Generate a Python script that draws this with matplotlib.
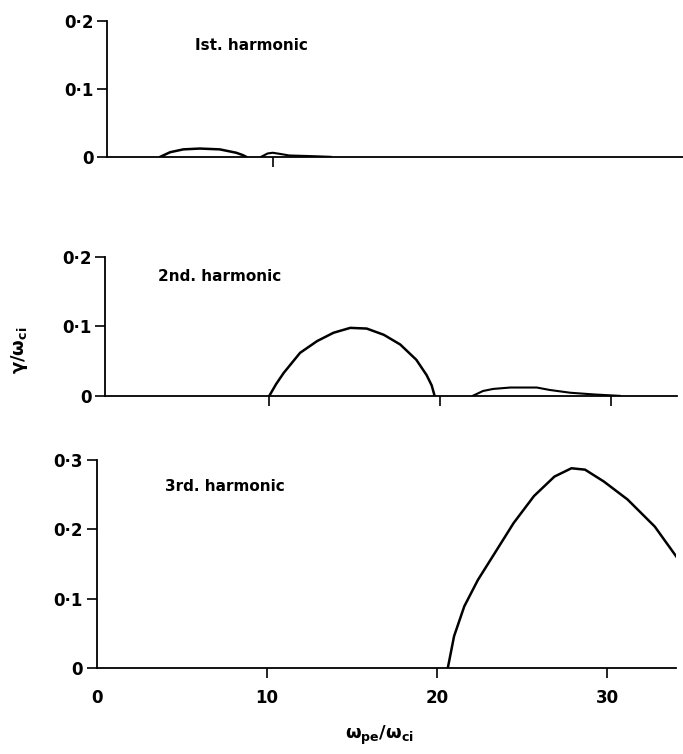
import matplotlib
matplotlib.use("Agg")
import matplotlib.pyplot as plt

plt.rcParams['font.family'] = ['DejaVu Sans']
plt.rcParams['mathtext.fontset'] = 'dejavusans'

# ---------- data ----------
# 1st harmonic: two small bumps
h1a_x = [3.2, 3.8, 4.6, 5.6, 6.8, 7.8, 8.2, 8.4]
h1a_y = [0.0, 0.0068, 0.011, 0.0122, 0.011, 0.006, 0.0025, 0.0]
h1b_x = [9.3, 9.7, 10.0, 10.4, 11.0, 12.4, 13.5]
h1b_y = [0.0, 0.005, 0.006, 0.0045, 0.002, 0.001, 0.0]

# 2nd harmonic: main hump + small bump
h2a_x = [10.0, 10.4, 10.84, 11.8, 12.8, 13.76, 14.74, 15.7, 16.7, 17.66,
         18.6, 19.2, 19.5, 19.67]
h2a_y = [0.0, 0.017, 0.033, 0.062, 0.079, 0.091, 0.098, 0.097, 0.088, 0.074,
         0.052, 0.030, 0.015, 0.0]
h2b_x = [21.9, 22.5, 23.1, 24.1, 25.0, 25.65, 26.4, 27.6, 29.0, 30.5]
h2b_y = [0.0, 0.007, 0.010, 0.012, 0.012, 0.012, 0.0085, 0.0045, 0.002, 0.0]

# 3rd harmonic
h3_x = [20.63, 21.0, 21.6, 22.4, 23.4, 24.5, 25.7, 26.9, 27.9, 28.7, 29.8,
        31.2, 32.8, 34.06]
h3_y = [0.0, 0.046, 0.089, 0.127, 0.166, 0.209, 0.248, 0.276, 0.288, 0.286,
        0.269, 0.243, 0.204, 0.161]

x_ticks = [0, 10, 20, 30]
y_ticks_small = [0, 0.1, 0.2]
y_ticks_big = [0, 0.1, 0.2, 0.3]


def fmt(v):
    if v == 0:
        return '0'
    return ('%.1f' % v).replace('.', '\u00b7')


fig = plt.figure(figsize=(6.83, 7.54), dpi=100)

ax1 = fig.add_axes([0.157, 0.792, 0.843, 0.180])
ax2 = fig.add_axes([0.154, 0.475, 0.837, 0.184])
ax3 = fig.add_axes([0.142, 0.114, 0.848, 0.276])

for ax in (ax1, ax2, ax3):
    for s in ('top', 'right'):
        ax.spines[s].set_visible(False)
    ax.spines['left'].set_linewidth(1.3)
    ax.spines['bottom'].set_linewidth(1.3)
    ax.tick_params(axis='both', direction='out', length=7, width=1.2,
                   labelsize=12, pad=3)

ax1.plot(h1a_x, h1a_y, color='black', lw=1.8)
ax1.plot(h1b_x, h1b_y, color='black', lw=1.5)
ax1.set_xlim(0, 34.8)
ax1.set_ylim(0, 0.2)
ax1.set_xticks([10])
ax1.set_xticklabels([''])
ax1.set_yticks(y_ticks_small)
ax1.set_yticklabels([fmt(v) for v in y_ticks_small], fontweight='bold')
ax1.text(0.25, 0.82, 'Ist. harmonic', transform=ax1.transAxes, ha='center',
         va='center', fontsize=11, fontweight='bold')

ax2.plot(h2a_x, h2a_y, color='black', lw=1.8)
ax2.plot(h2b_x, h2b_y, color='black', lw=1.5)
ax2.set_xlim(0.4, 33.84)
ax2.set_ylim(0, 0.2)
ax2.set_xticks([10, 20, 30])
ax2.set_xticklabels(['', '', ''])
ax2.set_yticks(y_ticks_small)
ax2.set_yticklabels([fmt(v) for v in y_ticks_small], fontweight='bold')
ax2.text(0.20, 0.86, '2nd. harmonic', transform=ax2.transAxes, ha='center',
         va='center', fontsize=11, fontweight='bold')

ax3.plot(h3_x, h3_y, color='black', lw=1.8)
ax3.set_xlim(0, 34.06)
ax3.set_ylim(0, 0.3)
ax3.set_xticks(x_ticks)
ax3.set_xticklabels([str(v) for v in x_ticks], fontweight='bold')
ax3.xaxis.get_major_ticks()[0].tick1line.set_visible(False)
ax3.tick_params(axis='x', pad=8)
ax3.set_yticks(y_ticks_big)
ax3.set_yticklabels([fmt(v) for v in y_ticks_big], fontweight='bold')
ax3.text(0.22, 0.87, '3rd. harmonic', transform=ax3.transAxes, ha='center',
         va='center', fontsize=11, fontweight='bold')

fig.text(0.028, 0.535, r'$\mathbf{\gamma/\omega_{ci}}$', rotation=90,
         ha='center', va='center', fontsize=13)
fig.text(0.555, 0.025, r'$\mathbf{\omega_{pe}/\omega_{ci}}$',
         ha='center', va='center', fontsize=13)

fig.savefig('out.png', dpi=100)
